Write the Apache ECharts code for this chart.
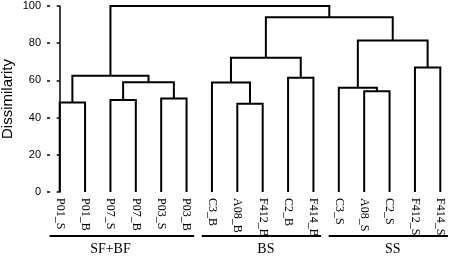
<!DOCTYPE html>
<html><head><meta charset="utf-8">
<script src="https://cdn.jsdelivr.net/npm/echarts@6/dist/echarts.min.js"></script>
<style>html,body{margin:0;padding:0;background:#fff}#c{width:454px;height:256px}</style>
</head><body><div id="c"></div>
<script>
// Leaves in dendrogram order
var leaves = ['P01_S','P01_B','P07_S','P07_B','P03_S','P03_B','C3_B','A08_B','F412_B','C2_B','F414_B','C3_S','A08_S','C2_S','F412_S','F414_S'];
// Linkage: nodes 0..15 are leaves, merge k creates node 16+k
var mergeLeft   = [0, 2, 4, 17, 16, 7, 6, 9, 22, 12, 11, 14, 26, 24, 20];
var mergeRight  = [1, 3, 5, 18, 19, 8, 21, 10, 23, 13, 25, 15, 27, 28, 29];
var mergeHeight = [48.1, 49.4, 50.3, 59.0, 62.5, 47.4, 58.9, 61.4, 72.2, 54.2, 56.0, 67.0, 81.5, 93.9, 100];
// Sample groups (first leaf, last leaf, node of group)
var groupNames = ['SF+BF', 'BS', 'SS'];
var groupFirst = [0, 6, 11];
var groupLast  = [5, 10, 15];
var groupNode  = [20, 24, 28];
var yTicks = [0, 20, 40, 60, 80, 100];

var n = leaves.length;
var nodeX = [], nodeH = [];
for (var i = 0; i < n; i++) { nodeX.push(i); nodeH.push(0); }
var linkData = [];
for (var k = 0; k < mergeLeft.length; k++) {
  var a = mergeLeft[k], b = mergeRight[k];
  linkData.push([nodeX[a], nodeX[b], nodeH[a], nodeH[b], mergeHeight[k]]);
  nodeX.push((nodeX[a] + nodeX[b]) / 2);
  nodeH.push(mergeHeight[k]);
}
var groupData = groupNames.map(function (g, i) {
  return [groupFirst[i], groupLast[i], nodeX[groupNode[i]], 0];
});

var chart = echarts.init(document.getElementById('c'), null, {renderer: 'canvas'});
chart.setOption({
  animation: false,
  backgroundColor: '#fff',
  grid: {left: 47, right: 1, top: 6, bottom: 64, containLabel: false, outerBoundsMode: 'none'},
  xAxis: [{
    type: 'category', data: leaves, boundaryGap: true,
    axisLine: {show: false}, axisTick: {show: false},
    axisLabel: {rotate: -90, interval: 0, margin: 6, color: '#000',
      fontFamily: 'Liberation Serif', fontSize: 12}
  }, {
    type: 'value', min: -0.5, max: 15.5, show: false
  }],
  yAxis: [{
    type: 'value', min: 0, max: 100, interval: 20,
    name: 'Dissimilarity', nameLocation: 'middle', nameGap: 32, nameMoveOverlap: false,
    nameTextStyle: {fontFamily: 'Liberation Sans', fontSize: 15, color: '#000'},
    axisLine: {show: true, lineStyle: {color: '#000', width: 1.5}},
    axisTick: {show: true, length: 3, lineStyle: {color: '#000', width: 1.5}},
    axisLabel: {color: '#000', fontFamily: 'Liberation Sans', fontSize: 11, margin: 6,
      formatter: function (v) { return yTicks.indexOf(v) >= 0 ? String(v) : ''; }},
    splitLine: {show: false}
  }, {
    type: 'value', min: 0, max: 100, interval: 20, position: 'left',
    axisLine: {show: false},
    axisTick: {show: true, inside: true, length: 3, lineStyle: {color: '#000', width: 1.5}},
    axisLabel: {show: false}, splitLine: {show: false}
  }],
  series: [{
    type: 'custom', xAxisIndex: 1, yAxisIndex: 0,
    encode: {x: [0, 1], y: [2, 3, 4]},
    data: linkData,
    renderItem: function (params, api) {
      var xl = api.value(0), xr = api.value(1), hl = api.value(2), hr = api.value(3), h = api.value(4);
      var pts = [api.coord([xl, hl]), api.coord([xl, h]), api.coord([xr, h]), api.coord([xr, hr])];
      return {type: 'polyline', shape: {points: pts},
        style: {stroke: '#000', lineWidth: 2, fill: null}};
    }
  }, {
    type: 'custom', xAxisIndex: 1, yAxisIndex: 0, clip: false,
    encode: {x: [0, 1], y: 3},
    data: groupData,
    renderItem: function (params, api) {
      var p0 = api.coord([api.value(0) - 0.4, 0]);
      var p1 = api.coord([api.value(1) + 0.3, 0]);
      var pc = api.coord([api.value(2), 0]);
      var yLine = p0[1] + 44;
      return {type: 'group', children: [
        {type: 'line', shape: {x1: p0[0], y1: yLine, x2: p1[0], y2: yLine},
          style: {stroke: '#000', lineWidth: 2}},
        {type: 'text', x: pc[0], y: yLine + 13,
          style: {text: groupNames[params.dataIndex], fill: '#000', align: 'center', verticalAlign: 'middle',
            font: '14px "Liberation Serif"'}}
      ]};
    }
  }]
});
</script></body></html>
